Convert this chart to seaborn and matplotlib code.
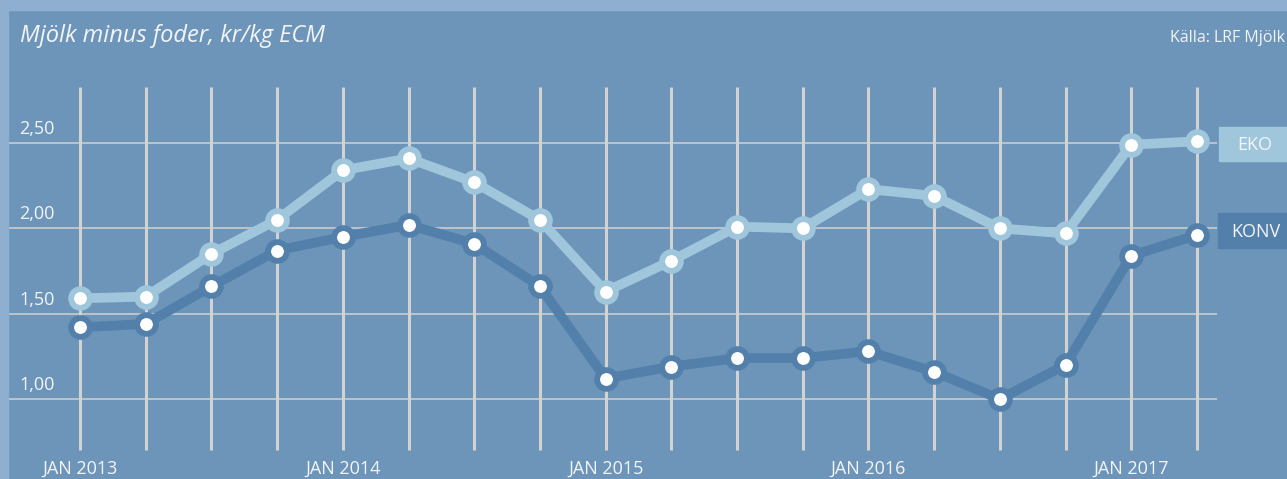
import matplotlib as mpl

mpl.use('Agg')
import matplotlib.pyplot as plt
import seaborn as sns
import pandas as pd
import numpy as np

# quarterly values, jan 2013 - apr 2017
quarters = ['2013-01', '2013-04', '2013-07', '2013-10',
            '2014-01', '2014-04', '2014-07', '2014-10',
            '2015-01', '2015-04', '2015-07', '2015-10',
            '2016-01', '2016-04', '2016-07', '2016-10',
            '2017-01', '2017-04']
eko = [1.59, 1.60, 1.85, 2.05, 2.34, 2.41, 2.27, 2.05, 1.63, 1.81, 2.01, 2.00,
       2.23, 2.19, 2.00, 1.97, 2.49, 2.51]
konv = [1.42, 1.44, 1.66, 1.87, 1.95, 2.02, 1.91, 1.66, 1.12, 1.19, 1.24, 1.24,
        1.28, 1.16, 1.00, 1.20, 1.84, 1.96]
y_ticks = [1.0, 1.5, 2.0, 2.5]
y_labels = ['1,00', '1,50', '2,00', '2,50']
x_label_pos = [0, 4, 8, 12, 16]
x_labels = ['JAN 2013', 'JAN 2014', 'JAN 2015', 'JAN 2016', 'JAN 2017']

BG = '#6c95b9'
BAND = '#8eafcf'
EKO_C = '#a0c6dc'
KONV_C = '#5280aa'
GRID = '#d2d2d2'
TXT = '#f2f4f7'

sns.set_style('white')
plt.rcParams['font.family'] = ['Open Sans', 'DejaVu Sans']

df = pd.DataFrame({'i': np.arange(len(quarters)), 'eko': eko, 'konv': konv})

fig = plt.figure(figsize=(12.87, 4.79), dpi=100, facecolor=BG)
ax = fig.add_axes([0, 0, 1, 1])
ax.set_facecolor(BG)

# pixel mapping: x index 0 -> px 80, step 65.7 ; y 2.5 -> px 143, 170.7 px per unit
ax.set_xlim(-80 / 65.7, (1287 - 80) / 65.7)
ax.set_ylim(2.5 - 336 / 170.7, 2.5 + 143 / 170.7)
ax.axis('off')

# grid
ax.vlines(df['i'], 2.5 - 307 / 170.7, 2.5 + 56 / 170.7, color=GRID, lw=2.2, zorder=1)
ax.hlines(y_ticks, -72 / 65.7, (1217 - 80) / 65.7, color=GRID, lw=1.1, zorder=1)

for col, c in [('konv', KONV_C), ('eko', EKO_C)]:
    sns.lineplot(data=df, x='i', y=col, ax=ax, color=c, lw=7, marker='o',
                 markersize=13.5, markerfacecolor='white', markeredgecolor=c,
                 markeredgewidth=4.2, zorder=3)

for v, lab in zip(y_ticks, y_labels):
    ax.text(-61 / 65.7, v + 5 / 170.7, lab, color=TXT, fontsize=13,
            ha='left', va='bottom')
for p, lab in zip(x_label_pos, x_labels):
    ax.text(p, 2.5 - 336 / 170.7 + 1 / 170.7, lab, color=TXT, fontsize=13,
            ha='center', va='bottom')

# end labels
fig.patches.append(plt.Rectangle((1219 / 1287, 1 - 161 / 479), 68 / 1287, 34 / 479,
                                 transform=fig.transFigure, color=EKO_C, zorder=0))
fig.patches.append(plt.Rectangle((1218 / 1287, 1 - 248 / 479), 69 / 1287, 35 / 479,
                                 transform=fig.transFigure, color=KONV_C, zorder=0))
fig.text(1255 / 1287, 1 - 145 / 479, 'EKO', color=TXT, fontsize=13, ha='center', va='center')
fig.text(1256 / 1287, 1 - 232 / 479, 'KONV', color=TXT, fontsize=13, ha='center', va='center')

# frame bands
fig.patches.append(plt.Rectangle((0, 1 - 10 / 479), 1, 10 / 479,
                                 transform=fig.transFigure, color=BAND, zorder=0))
fig.patches.append(plt.Rectangle((0, 0), 8 / 1287, 1,
                                 transform=fig.transFigure, color=BAND, zorder=0))

fig.text(20 / 1287, 1 - 36 / 479, 'Mjölk minus foder, kr/kg ECM', color=TXT,
         fontsize=17, style='italic', ha='left', va='center')
fig.text(1285 / 1287, 1 - 38 / 479, 'Källa: LRF Mjölk', color=TXT,
         fontsize=11.5, ha='right', va='center')

fig.savefig('out.png', dpi=100, facecolor=BG)
